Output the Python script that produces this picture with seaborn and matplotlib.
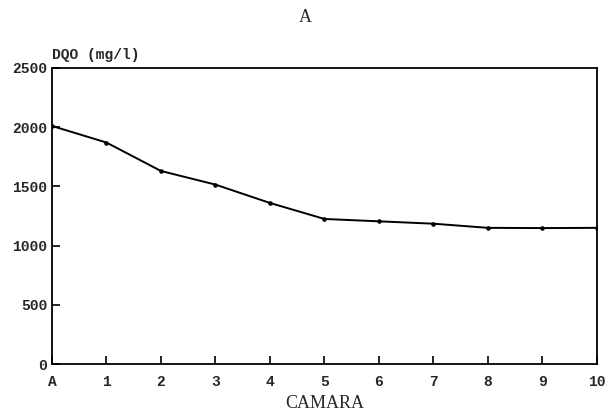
import seaborn as sns
import matplotlib.pyplot as plt
import pandas as pd

# valores
camaras = ['A', '1', '2', '3', '4', '5', '6', '7', '8', '9', '10']
dqo = [2010, 1870, 1630, 1515, 1360, 1225, 1205, 1185, 1150, 1148, 1150]
y_ticks = [0, 500, 1000, 1500, 2000, 2500]

dados = pd.DataFrame({'pos': range(len(camaras)), 'dqo': dqo})

sns.set_style('ticks')
plt.rcParams['font.family'] = ['Liberation Mono', 'DejaVu Sans']

fig = plt.figure(figsize=(6.11, 4.19), dpi=100)
ax = fig.add_axes([0.085, 0.131, 0.892, 0.707])

sns.lineplot(data=dados, x='pos', y='dqo', color='black', linewidth=1.4,
             marker='o', markersize=2.5, markeredgecolor='black', ax=ax)

ax.set_xlim(0, len(camaras) - 1)
ax.set_ylim(0, 2500)
ax.set_xticks(range(len(camaras)))
ax.set_xticklabels(camaras, fontweight='bold', fontsize=10.5)
ax.set_yticks(y_ticks)
ax.set_yticklabels([str(v) for v in y_ticks], fontweight='bold', fontsize=10.5)
ax.tick_params(direction='in', length=6, width=1.2, color='black')
ax.tick_params(axis='x', pad=8)
for lado in ax.spines.values():
    lado.set_linewidth(1.3)
    lado.set_color('black')

ax.set_xlabel('CAMARA', family='Liberation Serif', fontsize=13, labelpad=4)
ax.set_ylabel('')
ax.text(0, 1.02, 'DQO (mg/l)', transform=ax.transAxes, fontweight='bold',
        fontsize=10.5, ha='left', va='bottom')
fig.text(0.5, 0.958, 'A', family='Liberation Serif', fontsize=13,
         ha='center', va='center')

plt.savefig('out.png', format='png', dpi=100)
